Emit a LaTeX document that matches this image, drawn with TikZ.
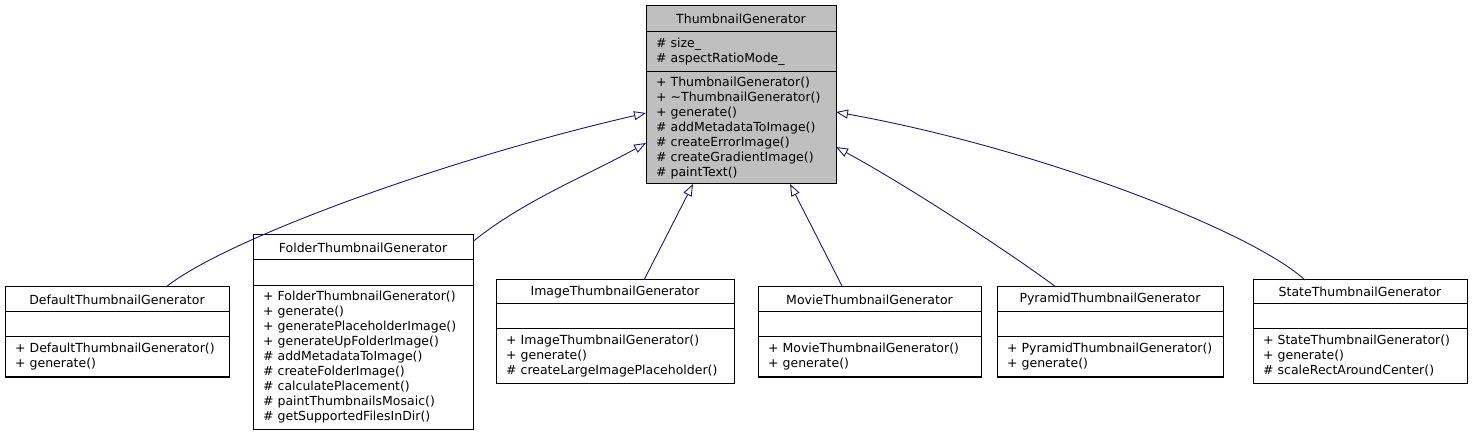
\documentclass[tikz,border=0pt]{standalone}
\usepackage{fontspec}
\setmainfont{DejaVu Sans}
\usetikzlibrary{arrows.meta,positioning}
\definecolor{edgeblue}{RGB}{25,25,112}
\definecolor{basegray}{RGB}{191,191,191}

\begin{document}
\begin{tikzpicture}[x=1pt,y=-1pt,font=\fontsize{12.5}{15}\selectfont,
  cls/.style={draw=black,fill=white,inner xsep=10pt,inner ysep=0pt,outer sep=0pt,line width=1pt},
  clshead/.style={cls,align=center},
  clsbody/.style={cls,align=left},
  inherit/.style={draw=edgeblue,line width=0.9pt,-{Triangle[open,length=12pt,width=9pt]}}]
\useasboundingbox (0,0) rectangle (1472,435);
\node[clshead,fill=basegray,text width=170pt,minimum height=26pt,anchor=north] (tg) at (741,6) {ThumbnailGenerator};
\node[clsbody,fill=basegray,text width=170pt,minimum height=40pt,below=0pt of tg] (tg-attr) {\# size\_\\\# aspectRatioMode\_};
\node[clsbody,fill=basegray,text width=170pt,minimum height=112pt,below=0pt of tg-attr] (tg-ops) {+ ThumbnailGenerator()\\+ \textasciitilde ThumbnailGenerator()\\+ generate()\\\# addMetadataToImage()\\\# createErrorImage()\\\# createGradientImage()\\\# paintText()};
\node[clshead,text width=204pt,minimum height=25pt,anchor=north] (dft) at (117,287) {DefaultThumbnailGenerator};
\node[clsbody,text width=204pt,minimum height=25pt,below=0pt of dft] (dft-attr) {};
\node[clsbody,text width=204pt,minimum height=40pt,below=0pt of dft-attr] (dft-ops) {+ DefaultThumbnailGenerator()\\+ generate()};
\node[clshead,text width=200pt,minimum height=25pt,anchor=north] (fld) at (363,235) {FolderThumbnailGenerator};
\node[clsbody,text width=200pt,minimum height=26pt,below=0pt of fld] (fld-attr) {};
\node[clsbody,text width=200pt,minimum height=143pt,below=0pt of fld-attr] (fld-ops) {+ FolderThumbnailGenerator()\\+ generate()\\+ generatePlaceholderImage()\\+ generateUpFolderImage()\\\# addMetadataToImage()\\\# createFolderImage()\\\# calculatePlacement()\\\# paintThumbnailsMosaic()\\\# getSupportedFilesInDir()};
\node[clshead,text width=218pt,minimum height=24pt,anchor=north] (img) at (615,280) {ImageThumbnailGenerator};
\node[clsbody,text width=218pt,minimum height=25pt,below=0pt of img] (img-attr) {};
\node[clsbody,text width=218pt,minimum height=54pt,below=0pt of img-attr] (img-ops) {+ ImageThumbnailGenerator()\\+ generate()\\\# createLargeImagePlaceholder()};
\node[clshead,text width=203pt,minimum height=25pt,anchor=north] (mov) at (869.5,287) {MovieThumbnailGenerator};
\node[clsbody,text width=203pt,minimum height=25pt,below=0pt of mov] (mov-attr) {};
\node[clsbody,text width=203pt,minimum height=40pt,below=0pt of mov-attr] (mov-ops) {+ MovieThumbnailGenerator()\\+ generate()};
\node[clshead,text width=206pt,minimum height=25pt,anchor=north] (pyr) at (1110,287) {PyramidThumbnailGenerator};
\node[clsbody,text width=206pt,minimum height=25pt,below=0pt of pyr] (pyr-attr) {};
\node[clsbody,text width=206pt,minimum height=40pt,below=0pt of pyr-attr] (pyr-ops) {+ PyramidThumbnailGenerator()\\+ generate()};
\node[clshead,text width=194pt,minimum height=24pt,anchor=north] (st) at (1360,280) {StateThumbnailGenerator};
\node[clsbody,text width=194pt,minimum height=25pt,below=0pt of st] (st-attr) {};
\node[clsbody,text width=194pt,minimum height=54pt,below=0pt of st-attr] (st-ops) {+ StateThumbnailGenerator()\\+ generate()\\\# scaleRectAroundCenter()};
\draw[inherit] ([xshift=49pt]dft.north) .. controls (226,239) and (446,159) .. ([yshift=15pt]tg-ops.west);
\draw[inherit] ([yshift=6pt]fld.east) .. controls (523,201) and (586,176) .. ([yshift=-15pt]tg-ops.west);
\draw[inherit] ([xshift=29pt]img.north) -- ([xshift=-48pt]tg-ops.south);
\draw[inherit] ([xshift=-27pt]mov.north) -- ([xshift=49pt]tg-ops.south);
\draw[inherit] ([xshift=-54pt]pyr.north) .. controls (1006,250) and (906,185) .. ([yshift=-19pt]tg-ops.east);
\draw[inherit] ([xshift=-55pt]st.north) .. controls (1250,230) and (1036,148) .. ([yshift=16pt]tg-ops.east);
\end{tikzpicture}
\end{document}
